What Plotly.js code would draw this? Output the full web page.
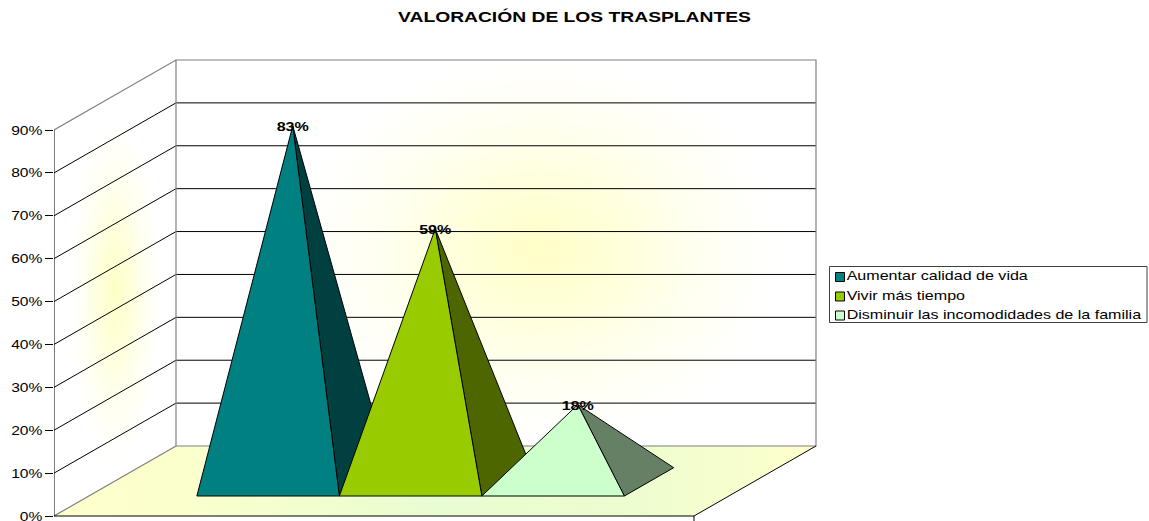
<!DOCTYPE html>
<html><head><meta charset="utf-8">
<script src="https://cdn.plot.ly/plotly-3.0.1.min.js"></script>
<style>html,body{margin:0;padding:0;background:#fff;overflow:hidden}#c{width:1149px;height:521px}</style>
</head><body><div id="c"></div>
<script>
const chartTitle = 'VALORACIÓN DE LOS TRASPLANTES';
const categories = ['Aumentar calidad de vida', 'Vivir más tiempo', 'Disminuir las incomodidades de la familia'];
const values = [83, 59, 18];
const frontColors = ['#008080', '#99CC00', '#CCFFCC'];
const sideColors = ['#004040', '#4D6600', '#668066'];
const axisTicks = [0, 10, 20, 30, 40, 50, 60, 70, 80, 90];
const axisMax = 90;

// oblique projection: horizontal unit = px, vertical unit = percent
const FONT = '"Liberation Sans", Arial, sans-serif';
const pxPerPct = 386 / 90, left = 54, width = 640, depthX = 122, depthY = 70 / pxPerPct;
const plotW = 1149 - left;
const P = (u, v, d) => [left + u + d * depthX, v + d * depthY];
const poly = (pts) => { const c = pts.concat([pts[0]]); return { x: c.map(p => p[0]), y: c.map(p => p[1]) }; };
const path = (pts) => ({ x: pts.map(p => p[0]), y: pts.map(p => p[1]) });
const gray = '#808080';
const traces = [];
const base = { type: 'scatter', hoverinfo: 'skip', showlegend: false, cliponaxis: false };
const fillT = (pts, extra) => Object.assign({}, base, poly(pts), { mode: 'lines', fill: 'toself', line: { width: 0 } }, extra);
const lineT = (pts, color, w) => Object.assign({}, base, path(pts), { mode: 'lines', line: { color: color, width: w === undefined ? 1 : w } });

// walls and floor
traces.push(fillT([P(0, 0, 0), P(0, axisMax, 0), P(0, axisMax, 1), P(0, 0, 1)], { fillcolor: '#ffffff' }));
traces.push(fillT([P(0, 0, 1), P(0, axisMax, 1), P(width, axisMax, 1), P(width, 0, 1)], { fillcolor: '#ffffff' }));
const glow = { type: 'radial', colorscale: [[0, '#ffffc8'], [0.3, '#ffffd8'], [0.65, '#fffff0'], [1, '#ffffff']] };
// glow on the back wall
traces.push(fillT([[300, 18], [780, 18], [780, 106], [300, 106]], { fillgradient: glow }));
// glow on the side wall
traces.push(fillT([[70, 13], [160, 13], [160, 92], [70, 92]], { fillgradient: glow }));
// floor
traces.push(fillT([P(0, 0, 0), P(width, 0, 0), P(width, 0, 1), P(0, 0, 1)], {
  fillgradient: { type: 'horizontal', colorscale: [[0, '#ffffcc'], [0.15, '#fbffcc'], [0.5, '#e9fdd2'], [0.75, '#ecfdd0'], [1, '#ffffcc']] }
}));

// gridlines
axisTicks.forEach(t => {
  if (t === 0 || t === axisMax) return;
  traces.push(lineT([P(0, t, 0), P(0, t, 1), P(width, t, 1)], '#000000', 1));
});
// frame
traces.push(lineT([P(0, axisMax, 0), P(0, axisMax, 1), P(width, axisMax, 1), P(width, 0, 1), P(0, 0, 1), P(0, axisMax, 1)], gray, 1.2));
traces.push(lineT([P(0, 0, 0), P(0, 0, 1)], gray, 1.2));
traces.push(lineT([P(width, 0, 0), P(width, 0, 1)], '#000000', 1));
// axes
traces.push(lineT([P(0, axisMax, 0), P(0, 0, 0), P(width, 0, 0), P(width, -1.4, 0)], '#000000', 1));

// pyramids
const baseStart = 108, catW = 142.5, d0 = 2 / 7, d1 = 0.69, dm = (d0 + d1) / 2;
values.forEach((v, i) => {
  const u0 = baseStart + i * catW, u1 = u0 + catW, um = (u0 + u1) / 2;
  const apex = P(um, v, dm), fl = P(u0, 0, d0), fr = P(u1, 0, d0), br = P(u1, 0, d1);
  const edge = { color: '#000000', width: 1 };
  traces.push(fillT([apex, fr, br], { fillcolor: sideColors[i], line: edge, name: categories[i] + ' lateral' }));
  traces.push(fillT([apex, fl, fr], { fillcolor: frontColors[i], line: edge, name: categories[i] }));
});
// data labels
values.forEach((v, i) => {
  const um = baseStart + (i + 0.5) * catW, apex = P(um, v, dm);
  traces.push(Object.assign({}, base, { x: [apex[0]], y: [apex[1] - 0.4], mode: 'text', text: [v + '%'],
    textposition: 'middle center', textfont: { family: FONT, size: 13, color: '#000000', weight: 700 } }));
});

// legend
const yOf = (py) => (516 - py) / pxPerPct;
traces.push(fillT([[829.5, yOf(266.5)], [1147, yOf(266.5)], [1147, yOf(322.5)], [829.5, yOf(322.5)]],
  { fillcolor: '#ffffff', line: { color: '#404040', width: 1 } }));
const legendY = [277, 296.5, 315.5];
categories.forEach((c, i) => {
  traces.push(Object.assign({}, base, { x: [840], y: [yOf(legendY[i])], mode: 'markers+text', text: [c], name: c,
    marker: { symbol: 'square', size: 9, color: frontColors[i], line: { color: '#000000', width: 1 } },
    textposition: 'middle right', textfont: { family: FONT, size: 13, color: '#000000' } }));
});

const layout = {
  width: 1149, height: 521, autosize: false, showlegend: false,
  paper_bgcolor: '#ffffff', plot_bgcolor: '#ffffff',
  margin: { l: left, r: 0, t: 0, b: 0, pad: 0 },
  title: { text: chartTitle, x: 574.5 / 1149, xanchor: 'center', y: 1 - 17 / 521, yanchor: 'middle',
    font: { family: FONT, size: 15.5, color: '#000000', weight: 700 } },
  xaxis: { range: [left, left + plotW], visible: false, fixedrange: true },
  yaxis: { range: [-5 / pxPerPct, 516 / pxPerPct], fixedrange: true, showgrid: false, zeroline: false, showline: false,
    tickmode: 'array', tickvals: axisTicks, ticktext: axisTicks.map(t => t + '%'), ticklabeloverflow: 'allow',
    ticks: 'outside', ticklen: 8, tickwidth: 1, tickcolor: '#000000',
    tickfont: { family: FONT, size: 13, color: '#000000' } }
};
// the reference's lettering is horizontally stretched
const stretch = (sel, f) => document.querySelectorAll(sel).forEach(el => {
  el.setAttribute('textLength', el.getComputedTextLength() * f);
  el.setAttribute('lengthAdjust', 'spacingAndGlyphs');
});
Plotly.newPlot('c', traces, layout, { displayModeBar: false, staticPlot: true }).then(() => {
  stretch('.gtitle', 1.243);
  stretch('.ytick text', 1.2);
  stretch('.textpoint text', 1.235);
});
</script></body></html>
